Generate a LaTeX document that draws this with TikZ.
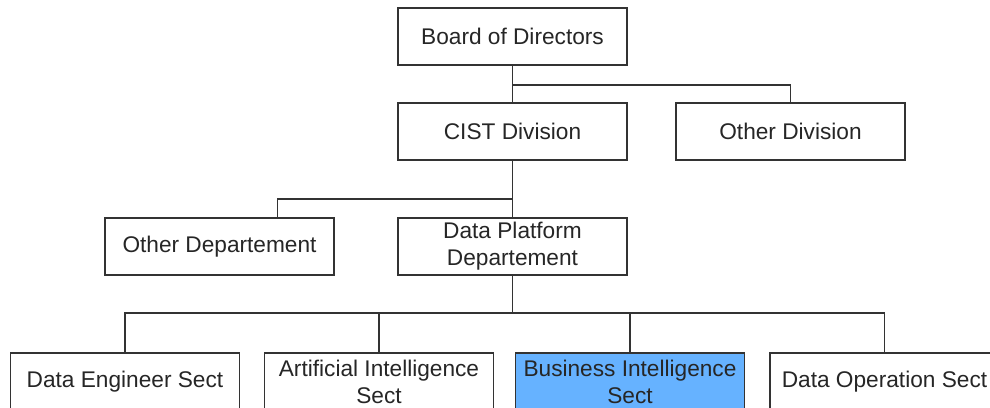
\documentclass[tikz,border=0pt]{standalone}
\usepackage{fontspec}
\setmainfont{Liberation Sans}
\usepackage{tikz}
\usetikzlibrary{calc}
\definecolor{linegray}{HTML}{333333}
\definecolor{bifill}{HTML}{66B2FF}
\tikzset{
  unit/.style={draw=linegray, line width=1pt, fill=white, text=black!85,
    minimum width=4.58cm, minimum height=1.14cm, inner sep=1pt, align=center,
    font=\fontsize{12.9}{15.3}\selectfont},
  link/.style={draw=linegray, line width=1pt}
}

\begin{document}
\begin{tikzpicture}[x=0.02cm,y=-0.02cm]
    \useasboundingbox (0,0) rectangle (990,407);
    \clip (0,0) rectangle (990,407);
    %board and divisions
    \node[unit] (board) at (512.5,36.5) {Board of Directors};
    \node[unit] (cist) at (512.5,131.5) {CIST Division};
    \node[unit] (otherdiv) at (790.5,131.5) {Other Division};
    %departements
    \node[unit] (otherdept) at (219.5,246.5) {Other Departement};
    \node[unit] (dataplat) at (512.5,246.5) {Data Platform\\Departement};
    %sections
    \node[unit] (dataeng) at (125,381.5) {Data Engineer Sect};
    \node[unit] (aisect) at (379,381.5) {Artificial Intelligence\\Sect};
    \node[unit, fill=bifill] (bisect) at (630,381.5) {Business Intelligence\\Sect};
    \node[unit] (dataop) at (884.5,381.5) {Data Operation Sect};
    %links
    \draw[link] (board.south) -- (cist.north);
    \draw[link] ($(board.south)+(0,19)$) -| (otherdiv.north);
    \draw[link] (cist.south) -- (dataplat.north);
    \draw[link] ($(cist.south)+(0,38)$) -| ($(otherdept.north)+(58,0)$);
    \draw[link] (dataplat.south) -- ++(0,37) coordinate (bus);
    \draw[link] (dataeng.north) |- (bus) -| (dataop.north);
    \draw[link] (aisect.north) -- (aisect.north |- bus);
    \draw[link] (bisect.north) -- (bisect.north |- bus);
\end{tikzpicture}
\end{document}
